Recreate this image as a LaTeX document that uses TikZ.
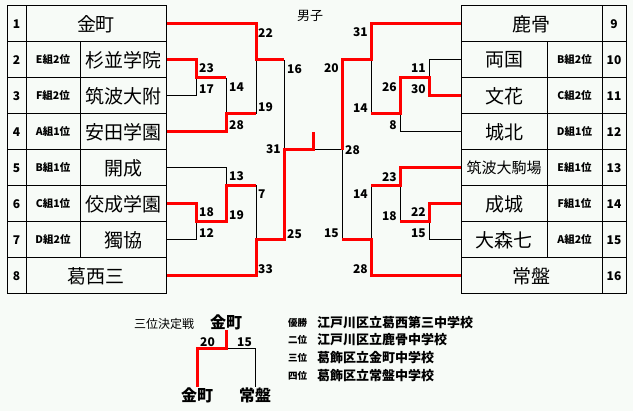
\documentclass[tikz,border=0pt]{standalone}
\usepackage{fontspec}
\setmainfont{Noto Sans CJK JP}
\usepackage{tikz}
\definecolor{bgc}{RGB}{247,251,247}
\tikzstyle{cell}=[draw, rectangle, minimum height=36pt, inner sep=0pt, line width=1pt]
\tikzstyle{team}=[cell, minimum width=86pt, font=\fontsize{19}{19}\selectfont]
\tikzstyle{wide}=[cell, minimum width=140pt, font=\fontsize{19}{19}\selectfont]
\tikzstyle{grp}=[cell, minimum width=54pt, font=\bfseries\fontsize{10.5}{10.5}\selectfont]
\tikzstyle{num}=[cell, minimum width=19pt, font=\bfseries\fontsize{12}{12}\selectfont]
\tikzstyle{win}=[draw=red, line width=3pt]
\tikzstyle{lose}=[draw, line width=1pt]
\tikzstyle{score}=[inner sep=0pt, font=\bfseries\fontsize{12}{12}\selectfont]
\tikzstyle{rank}=[inner sep=0pt, font=\bfseries\fontsize{9.5}{9.5}\selectfont]
\tikzstyle{school}=[inner sep=0pt, anchor=west, font=\bfseries\fontsize{13}{13}\selectfont]

\begin{document}
\begin{tikzpicture}[x=1pt, y=-1pt]
		\fill[bgc] (0,0) rectangle (633,411);
		\useasboundingbox (0,0) rectangle (633,411);
		\node[font=\fontsize{13}{13}\selectfont] (title) at (310,16) {男子};
		% left table
		\node[num] (n1) at (16.5,24) {1};
		\node[wide] (L1) at (96,24) {金町};
		\node[num] (n2) at (16.5,60) {2};
		\node[grp] (g2) at (53,60) {E組2位};
		\node[team] (L2) at (123,60) {杉並学院};
		\node[num] (n3) at (16.5,96) {3};
		\node[grp] (g3) at (53,96) {F組2位};
		\node[team] (L3) at (123,96) {筑波大附};
		\node[num] (n4) at (16.5,132) {4};
		\node[grp] (g4) at (53,132) {A組1位};
		\node[team] (L4) at (123,132) {安田学園};
		\node[num] (n5) at (16.5,168) {5};
		\node[grp] (g5) at (53,168) {B組1位};
		\node[team] (L5) at (123,168) {開成};
		\node[num] (n6) at (16.5,204) {6};
		\node[grp] (g6) at (53,204) {C組1位};
		\node[team] (L6) at (123,204) {佼成学園};
		\node[num] (n7) at (16.5,240) {7};
		\node[grp] (g7) at (53,240) {D組2位};
		\node[team] (L7) at (123,240) {獨協};
		\node[num] (n8) at (16.5,276) {8};
		\node[wide] (L8) at (96,276) {葛西三};
		% right table
		\node[wide, minimum width=141pt] (R9) at (531.5,24) {鹿骨};
		\node[num, minimum width=24pt] (n9) at (614,24) {9};
		\node[team] (R10) at (504,60) {両国};
		\node[grp, minimum width=55pt] (g10) at (574.5,60) {B組2位};
		\node[num, minimum width=24pt] (n10) at (614,60) {10};
		\node[team] (R11) at (504,96) {文花};
		\node[grp, minimum width=55pt] (g11) at (574.5,96) {C組2位};
		\node[num, minimum width=24pt] (n11) at (614,96) {11};
		\node[team] (R12) at (504,132) {城北};
		\node[grp, minimum width=55pt] (g12) at (574.5,132) {D組1位};
		\node[num, minimum width=24pt] (n12) at (614,132) {12};
		\node[team, font=\fontsize{15}{15}\selectfont] (R13) at (504,168) {筑波大駒場};
		\node[grp, minimum width=55pt] (g13) at (574.5,168) {E組1位};
		\node[num, minimum width=24pt] (n13) at (614,168) {13};
		\node[team] (R14) at (504,204) {成城};
		\node[grp, minimum width=55pt] (g14) at (574.5,204) {F組1位};
		\node[num, minimum width=24pt] (n14) at (614,204) {14};
		\node[team] (R15) at (504,240) {大森七};
		\node[grp, minimum width=55pt] (g15) at (574.5,240) {A組2位};
		\node[num, minimum width=24pt] (n15) at (614,240) {15};
		\node[wide, minimum width=141pt] (R16) at (531.5,276) {常盤};
		\node[num, minimum width=24pt] (n16) at (614,276) {16};
		% junctions
		\coordinate (la) at (196,78);
		\coordinate (lb) at (226,114);
		\coordinate (lc) at (256,60);
		\coordinate (ld) at (226,186);
		\coordinate (le) at (196,222);
		\coordinate (lf) at (256,240);
		\coordinate (lg) at (284,150);
		\coordinate (mid) at (313,150);
		\coordinate (flag) at (313,132);
		\coordinate (ra) at (429,78);
		\coordinate (rb) at (400,114);
		\coordinate (rc) at (371,60);
		\coordinate (rd) at (400,186);
		\coordinate (re) at (429,222);
		\coordinate (rf) at (371,240);
		\coordinate (rg) at (342,150);
		% left bracket
		\draw[lose] (L3.east) -| (la);
		\draw[lose] (lb |- la) -- (lb);
		\draw[lose] (lc) -- (lc |- lb);
		\draw[lose] (lg |- lc) -- (lg);
		\draw[lose] (L5.east) -| (ld);
		\draw[lose] (L7.east) -| (le);
		\draw[lose] (ld) -- (lf |- ld) -- (lf);
		\draw[lose] (mid) -- (rg);
		\draw[win] (L1.east) -| (lc) -- (lg |- lc);
		\draw[win] (L2.east) -| (la) -- (lb |- la);
		\draw[win] (L4.east) -| (lb) -- (lc |- lb);
		\draw[win] (L6.east) -| (le) -| (ld) -- (lf |- ld);
		\draw[win] (L8.east) -| (lf) -- (lg |- lf) -- (lg) -- (mid) -- (flag);
		% right bracket
		\draw[lose] (R10.west) -| (ra);
		\draw[lose] (R12.west) -| (rb);
		\draw[lose] (rc) -- (rc |- rb);
		\draw[lose] (R15.west) -| (re);
		\draw[lose] (rd) -- (rd |- re);
		\draw[lose] (rc |- rd) -- (rf);
		\draw[lose] (rg) -- (rg |- rf);
		\draw[win] (R9.west) -| (rc) -- (rg |- rc) -- (rg);
		\draw[win] (R11.west) -| (ra) -| (rb) -- (rc |- rb);
		\draw[win] (R13.west) -| (rd) -- (rc |- rd);
		\draw[win] (R14.west) -| (re) -- (rd |- re);
		\draw[win] (R16.west) -| (rf) -- (rg |- rf);
		% scores left
		\node[score, anchor=west] (s1) at (258,33) {22};
		\node[score, anchor=west] (s2) at (199,68) {23};
		\node[score, anchor=west] (s3) at (199,89) {17};
		\node[score, anchor=west] (s4) at (229,87) {14};
		\node[score, anchor=west] (s5) at (229,125) {28};
		\node[score, anchor=west] (s6) at (258,107) {19};
		\node[score, anchor=west] (s7) at (287,69) {16};
		\node[score, anchor=east] (s8) at (281,149) {31};
		\node[score, anchor=west] (s9) at (229,176) {13};
		\node[score, anchor=west] (s10) at (199,212) {18};
		\node[score, anchor=west] (s11) at (199,233) {12};
		\node[score, anchor=west] (s12) at (229,215) {19};
		\node[score, anchor=west] (s13) at (258,194) {7};
		\node[score, anchor=west] (s14) at (258,269) {33};
		\node[score, anchor=west] (s15) at (287,234) {25};
		% scores right
		\node[score, anchor=east] (t1) at (368,32) {31};
		\node[score, anchor=east] (t2) at (339,68) {20};
		\node[score, anchor=east] (t3) at (426,68) {11};
		\node[score, anchor=east] (t4) at (426,89) {30};
		\node[score, anchor=east] (t5) at (397,87) {26};
		\node[score, anchor=east] (t6) at (397,125) {8};
		\node[score, anchor=east] (t7) at (368,108) {14};
		\node[score, anchor=west] (t8) at (345,150) {28};
		\node[score, anchor=east] (t9) at (397,177) {23};
		\node[score, anchor=east] (t10) at (426,212) {22};
		\node[score, anchor=east] (t11) at (426,233) {15};
		\node[score, anchor=east] (t12) at (397,216) {18};
		\node[score, anchor=east] (t13) at (368,194) {14};
		\node[score, anchor=east] (t14) at (368,269) {28};
		\node[score, anchor=east] (t15) at (339,233) {15};
		% third place
		\node[font=\fontsize{12}{12}\selectfont] (third) at (164,324) {三位決定戦};
		\node[inner sep=0pt, font=\bfseries\fontsize{16}{16}\selectfont] (w3) at (226,322) {金町};
		\node[inner sep=0pt, font=\bfseries\fontsize{16}{16}\selectfont] (b1) at (197,395) {金町};
		\node[inner sep=0pt, font=\bfseries\fontsize{16}{16}\selectfont] (b2) at (255,395) {常盤};
		\coordinate (k) at (226,349);
		\draw[lose] (k) -| (b2.north);
		\draw[win] (w3.south) -- (k) -| (b1.north);
		\node[score] (u1) at (207.5,342) {20};
		\node[score] (u2) at (244.5,342) {15};
		% results
		\node[rank] (r1) at (297.5,323) {優勝};
		\node[school] (c1) at (317,323) {江戸川区立葛西第三中学校};
		\node[rank] (r2) at (297.5,340) {二位};
		\node[school] (c2) at (317,340) {江戸川区立鹿骨中学校};
		\node[rank] (r3) at (297.5,358) {三位};
		\node[school] (c3) at (317,358) {葛飾区立金町中学校};
		\node[rank] (r4) at (297.5,376) {四位};
		\node[school] (c4) at (317,376) {葛飾区立常盤中学校};
	\end{tikzpicture}
\end{document}
